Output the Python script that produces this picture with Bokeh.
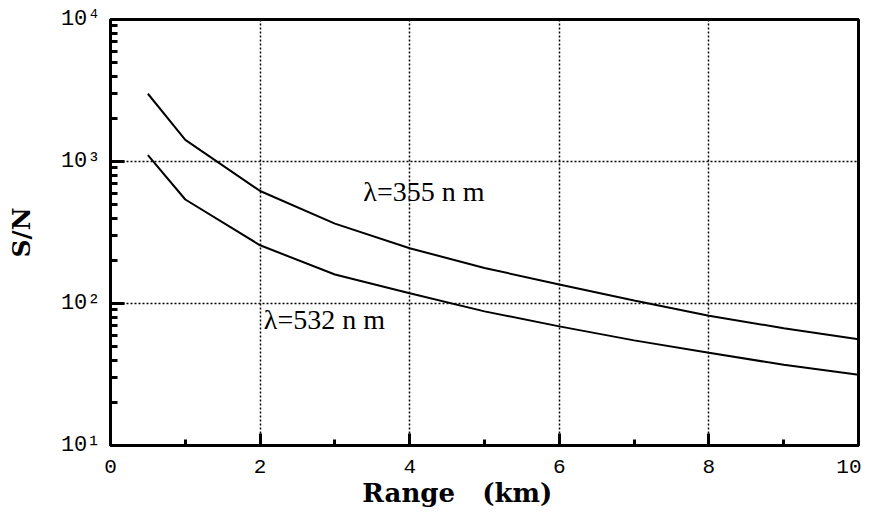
from bokeh.plotting import figure
from bokeh.models import Range1d, FixedTicker, CustomJSTickFormatter, Label
from bokeh.embed import file_html
from bokeh.resources import INLINE

# Data
range_km = [0.5, 1, 2, 3, 4, 5, 6, 7, 8, 9, 10]
sn_355 = [3000, 1420, 620, 365, 245, 178, 136, 105, 82, 67, 56]
sn_532 = [1110, 540, 257, 160, 118, 88, 69, 55, 45, 37, 31.5]

x_ticks = [0, 2, 4, 6, 8, 10]
x_minor = [1, 3, 5, 7, 9]
y_ticks = [10, 100, 1000, 10000]
y_minor = [m * d for d in [10, 100, 1000] for m in range(2, 10)]

label_355 = ("λ=355 n m", 3.38, 610)
label_532 = ("λ=532 n m", 2.05, 77)

p = figure(width=861, height=510, y_axis_type="log",
           x_range=Range1d(0, 10), y_range=Range1d(10, 10000),
           output_backend="svg", toolbar_location=None,
           min_border_left=110, min_border_right=3,
           min_border_top=19, min_border_bottom=65)
p.background_fill_color = "white"
p.border_fill_color = "white"
p.outline_line_color = "black"
p.outline_line_width = 3

p.xaxis.ticker = FixedTicker(ticks=x_ticks, minor_ticks=x_minor)
p.yaxis.ticker = FixedTicker(ticks=y_ticks, minor_ticks=y_minor)
p.yaxis.formatter = CustomJSTickFormatter(code="""
const sup = {'1':'\u00b9','2':'\u00b2','3':'\u00b3','4':'\u2074'};
const e = Math.round(Math.log10(tick)).toString();
return '10' + sup[e];
""")

for ax in (p.xaxis[0], p.yaxis[0]):
    ax.axis_line_width = 3
    ax.axis_line_color = "black"
    ax.major_tick_out = 0
    ax.minor_tick_out = 0
    ax.major_tick_line_width = 3
    ax.minor_tick_line_width = 3
    ax.major_tick_line_color = "black"
    ax.minor_tick_line_color = "black"
    ax.major_label_text_font = "Liberation Mono"
    ax.major_label_text_color = "black"
    ax.axis_label_text_font = "DejaVu Serif"
    ax.axis_label_text_font_style = "bold"
    ax.axis_label_text_color = "black"

p.xaxis.major_label_text_font_size = "21px"
p.yaxis.major_label_text_font_size = "22px"
p.xaxis.major_tick_in = 12
p.xaxis.minor_tick_in = 6
p.yaxis.major_tick_in = 14
p.yaxis.minor_tick_in = 7
p.xaxis.major_label_standoff = 14
p.yaxis.major_label_standoff = 10

p.xaxis.axis_label = "Range\u00a0\u00a0\u00a0(km)" + "\u00a0" * 6
p.xaxis.axis_label_text_font_size = "26px"
p.xaxis.axis_label_standoff = 2
p.yaxis.axis_label = "S/N"
p.yaxis.axis_label_text_font_size = "25px"
p.yaxis.axis_label_standoff = 22

for g in (p.xgrid[0], p.ygrid[0]):
    g.grid_line_color = "black"
    g.grid_line_width = 1.5
    g.grid_line_dash = "2 2"

p.line(range_km, sn_355, line_color="black", line_width=2)
p.line(range_km, sn_532, line_color="black", line_width=2)

for txt, lx, ly in (label_355, label_532):
    p.add_layout(Label(x=lx, y=ly, text=txt, text_font="Liberation Serif",
                       text_font_size="28px", text_baseline="middle",
                       text_align="left", text_color="black"))

open("out.html", "w").write(file_html(p, INLINE))
